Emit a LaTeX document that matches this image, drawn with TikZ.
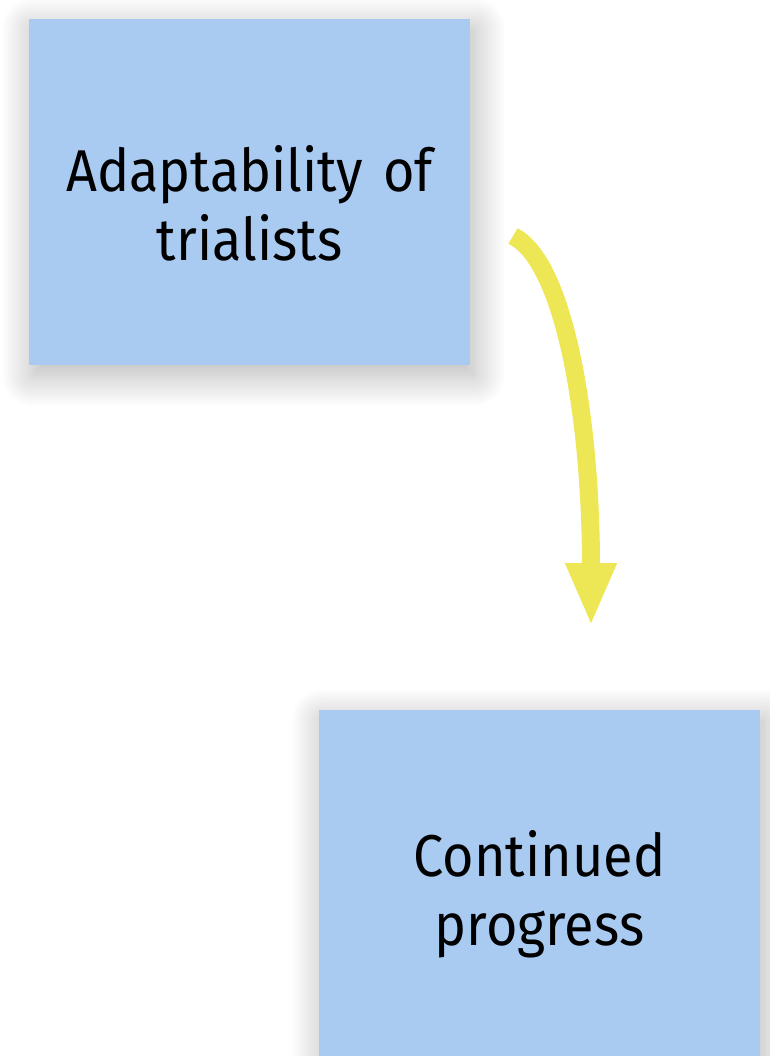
\documentclass[tikz,border=0pt]{standalone}
\usepackage{fontspec}
\setmainfont[FakeStretch=0.915, WordSpace=0.7]{Fira Sans}
\usepackage{xcolor}
\usepackage{tikz}
\usetikzlibrary{arrows.meta,shadows.blur}
\definecolor{boxblue}{HTML}{A9CBF1}
\definecolor{arrowyellow}{HTML}{EDE655}
\def\largeur{770}
\def\hauteur{1056}

\begin{document}
\begin{tikzpicture}[x=0.5pt, y=-0.5pt,
    box/.style={fill=boxblue, minimum width=220.5pt, minimum height=173pt,
        text width=215pt, align=center, inner sep=0pt,
        font=\fontsize{29.5}{34.5}\selectfont,
        execute at begin node={\rule{0pt}{34pt}},
        blur shadow={shadow xshift=2pt, shadow yshift=-5pt, shadow blur radius=16pt,
            shadow blur steps=24, shadow opacity=30}},
    arrowline/.style={draw=arrowyellow, line width=9pt,
        -{Triangle[length=31.5pt, width=23.5pt]}}]
\useasboundingbox (0,0) rectangle (\largeur,\hauteur);
%\draw[step=50, black!20] (0,0) grid (\largeur,\hauteur);
    \node[box] (adapt) at (249.5,192) {Adaptability of\\trialists};
    \node[box] (progress) at (539.5,883) {Continued\\progress};
    \coordinate (arrS) at (513,236);
    \coordinate (arrE) at (591,626);
    \draw[arrowline] (arrS) .. controls (565,262) and (591,420) .. (arrE);
\end{tikzpicture}
\end{document}
